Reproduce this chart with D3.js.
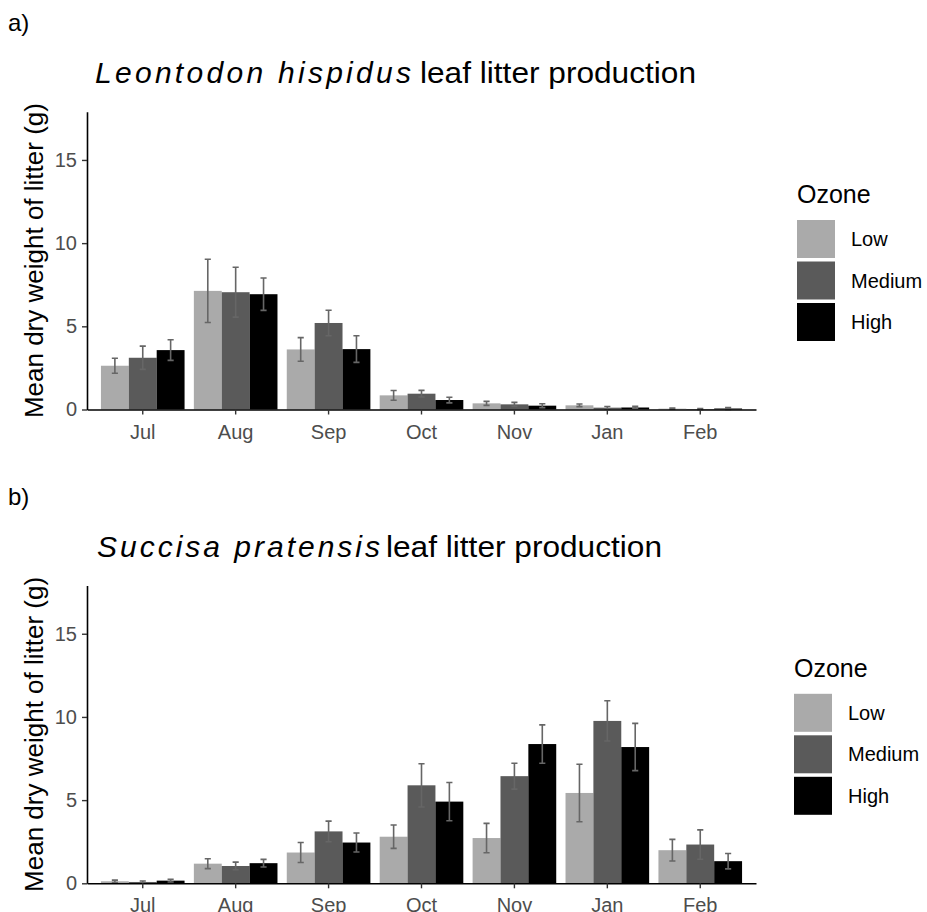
<!DOCTYPE html>
<html>
<head>
<meta charset="utf-8">
<script src="https://cdn.jsdelivr.net/npm/d3@7"></script>
<style>
  body { margin: 0; background: #fff; }
  svg { font-family: "Liberation Sans", Arial, sans-serif; }
</style>
</head>
<body>
<div id="chart"></div>
<script>
"use strict";

// categories
var months = ["Jul", "Aug", "Sep", "Oct", "Nov", "Jan", "Feb"];
var ozone = ["Low", "Medium", "High"];
var yTicks = [0, 5, 10, 15];

// a) Leontodon hispidus, means and error bar half widths
var leoLow = [2.63, 7.13, 3.61, 0.85, 0.37, 0.25, 0.05];
var leoMed = [3.11, 7.05, 5.2, 0.95, 0.31, 0.11, 0.03];
var leoHigh = [3.57, 6.93, 3.63, 0.57, 0.23, 0.12, 0.06];
var leoLowErr = [0.45, 1.9, 0.71, 0.29, 0.12, 0.08, 0.03];
var leoMedErr = [0.7, 1.5, 0.77, 0.2, 0.12, 0.07, 0.02];
var leoHighErr = [0.62, 0.97, 0.8, 0.17, 0.12, 0.07, 0.05];

// b) Succisa pratensis
var sucLow = [0.12, 1.18, 1.85, 2.8, 2.72, 5.43, 1.99];
var sucMed = [0.08, 1.04, 3.12, 5.89, 6.44, 9.76, 2.33];
var sucHigh = [0.16, 1.21, 2.45, 4.91, 8.37, 8.19, 1.33];
var sucLowErr = [0.07, 0.3, 0.6, 0.7, 0.88, 1.73, 0.65];
var sucMedErr = [0.06, 0.23, 0.62, 1.3, 0.78, 1.21, 0.88];
var sucHighErr = [0.08, 0.23, 0.57, 1.15, 1.15, 1.42, 0.46];

var width = 927;
var height = 912;

var color = d3.scaleOrdinal()
  .domain(ozone)
  .range(["#aaaaaa", "#5a5a5a", "#000000"]);

var svg = d3.select("#chart").append("svg")
  .attr("width", width)
  .attr("height", height);

function panel(cfg) {
  var g = svg.append("g").attr("transform", "translate(0," + cfg.dy + ")");

  var left = 87, right = 756, top = 111.7, bottom = 409.5;

  var x = d3.scaleBand()
    .domain(months)
    .range([left, right])
    .paddingInner(0.1)
    .paddingOuter(0.15);

  var xSub = d3.scaleBand()
    .domain(ozone)
    .range([0, x.bandwidth()]);

  var y = d3.scaleLinear()
    .domain([0, 17.9])
    .range([bottom, top]);

  var rows = [];
  months.forEach(function(m, i) {
    ozone.forEach(function(o, j) {
      rows.push({month: m, ozone: o, value: cfg.means[j][i], err: cfg.errs[j][i]});
    });
  });

  g.append("text")
    .attr("x", 8).attr("y", 31)
    .attr("font-size", 24)
    .text(cfg.tag);

  g.append("text")
    .attr("x", cfg.titleX).attr("y", 83)
    .attr("font-size", 30)
    .attr("font-style", "italic")
    .attr("textLength", cfg.speciesLen)
    .attr("lengthAdjust", "spacing")
    .text(cfg.species);

  g.append("text")
    .attr("x", cfg.restX).attr("y", 83)
    .attr("font-size", 30)
    .attr("textLength", 276)
    .attr("lengthAdjust", "spacingAndGlyphs")
    .text("leaf litter production");

  var bars = g.append("g");
  bars.selectAll("rect")
    .data(rows)
    .join("rect")
    .attr("x", function(d) { return x(d.month) + xSub(d.ozone); })
    .attr("y", function(d) { return y(d.value); })
    .attr("width", xSub.bandwidth())
    .attr("height", function(d) { return y(0) - y(d.value); })
    .attr("fill", function(d) { return color(d.ozone); });

  var cap = xSub.bandwidth() * 0.11;
  var errs = g.append("g")
    .attr("stroke", "#666666")
    .attr("stroke-width", 1.6)
    .attr("fill", "none");
  errs.selectAll("path")
    .data(rows)
    .join("path")
    .attr("d", function(d) {
      var cx = x(d.month) + xSub(d.ozone) + xSub.bandwidth() / 2;
      var y1 = y(d.value + d.err), y0 = y(Math.max(0, d.value - d.err));
      return "M" + (cx - cap) + "," + y1 + "H" + (cx + cap) +
        "M" + cx + "," + y1 + "V" + y0 +
        "M" + (cx - cap) + "," + y0 + "H" + (cx + cap);
    });

  var xAxis = g.append("g")
    .attr("transform", "translate(0," + bottom + ")")
    .call(d3.axisBottom(x).tickSize(5).tickSizeOuter(0).tickPadding(10));
  xAxis.select(".domain").attr("stroke", "#000").attr("stroke-width", 1.6);
  xAxis.selectAll(".tick line").attr("stroke", "#333").attr("stroke-width", 1.4);
  xAxis.selectAll(".tick text")
    .attr("font-size", 20)
    .attr("font-family", "Liberation Sans, Arial, sans-serif")
    .attr("fill", "#4d4d4d");

  var yAxis = g.append("g")
    .attr("transform", "translate(" + left + ",0)")
    .call(d3.axisLeft(y).tickValues(yTicks).tickSize(5).tickSizeOuter(0).tickPadding(5));
  yAxis.select(".domain").attr("stroke", "#000").attr("stroke-width", 1.6);
  yAxis.selectAll(".tick line").attr("stroke", "#333").attr("stroke-width", 1.4);
  yAxis.selectAll(".tick text")
    .attr("font-size", 20)
    .attr("font-family", "Liberation Sans, Arial, sans-serif")
    .attr("fill", "#4d4d4d");

  g.append("text")
    .attr("transform", "translate(43," + ((top + bottom) / 2) + ") rotate(-90)")
    .attr("text-anchor", "middle")
    .attr("font-size", 26)
    .text("Mean dry weight of litter (g)");

  // legend
  var lg = g.append("g").attr("transform", "translate(" + cfg.legendX + ",0)");
  lg.append("text")
    .attr("x", 0).attr("y", 203)
    .attr("font-size", 25)
    .text("Ozone");
  var items = lg.selectAll(".key")
    .data(ozone)
    .join("g")
    .attr("class", "key")
    .attr("transform", function(d, i) { return "translate(0," + (220 + i * 41.5) + ")"; });
  items.append("rect")
    .attr("width", 38).attr("height", 38)
    .attr("fill", function(d) { return color(d); });
  items.append("text")
    .attr("x", 54).attr("y", 19)
    .attr("dy", "0.35em")
    .attr("font-size", 20)
    .text(function(d) { return d; });
}

panel({
  dy: 0, tag: "a)",
  species: "Leontodon hispidus", titleX: 95, speciesLen: 316, restX: 420,
  legendX: 797,
  means: [leoLow, leoMed, leoHigh],
  errs: [leoLowErr, leoMedErr, leoHighErr]
});

panel({
  dy: 473.8, tag: "b)",
  species: "Succisa pratensis", titleX: 97, speciesLen: 283, restX: 386,
  legendX: 794,
  means: [sucLow, sucMed, sucHigh],
  errs: [sucLowErr, sucMedErr, sucHighErr]
});
</script>
</body>
</html>
